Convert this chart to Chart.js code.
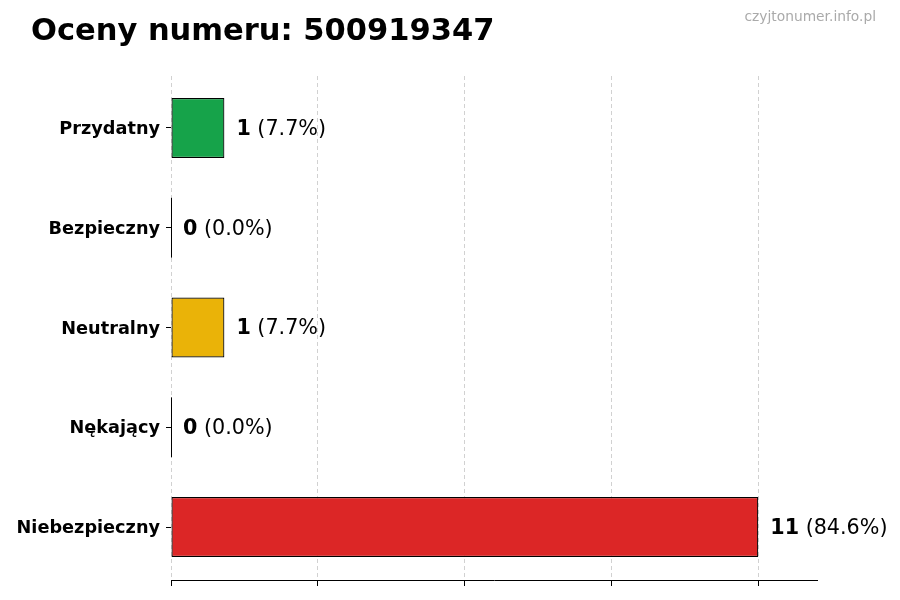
<!DOCTYPE html>
<html><head><meta charset="utf-8">
<script src="https://cdn.jsdelivr.net/npm/chart.js@4.4.0/dist/chart.umd.min.js"></script>
<style>html,body{margin:0;padding:0;background:#fff;} canvas{display:block;}</style>
</head><body>
<canvas id="c" width="900" height="600"></canvas>
<script>
const titleText = "Oceny numeru: 500919347";
const watermarkText = "czyjtonumer.info.pl";
const categories = ["Przydatny", "Bezpieczny", "Neutralny", "Nękający", "Niebezpieczny"];
const counts = [1, 0, 1, 0, 11];
const barColors = ["#16a34a", "#2563eb", "#eab308", "#ea580c", "#dc2626"];
const xTickValues = [0, 2.75, 5.5, 8.25, 11];
const xMax = 12.1;

const FONT = '"DejaVu Sans", "Liberation Sans", sans-serif';

const overlay = {
  id: 'overlay',
  afterDraw(chart) {
    const ctx = chart.ctx;
    const meta = chart.getDatasetMeta(0);
    const xs = chart.scales.x;
    const total = counts.reduce((a, b) => a + b, 0);
    ctx.save();
    meta.data.forEach((bar, i) => {
      const v = counts[i];
      if (v === 0) {
        const x0 = Math.round(xs.getPixelForValue(0)) + 0.5;
        ctx.strokeStyle = '#000';
        ctx.lineWidth = 1;
        ctx.beginPath();
        ctx.moveTo(x0, bar.y - bar.height / 2);
        ctx.lineTo(x0, bar.y + bar.height / 2);
        ctx.stroke();
      }
      const x = bar.x + 12;
      const y = bar.y + 1.5;
      ctx.fillStyle = '#000';
      ctx.textBaseline = 'middle';
      ctx.textAlign = 'left';
      ctx.font = 'bold 20.7px ' + FONT;
      const s1 = String(v);
      ctx.fillText(s1, x, y);
      const w = ctx.measureText(s1).width;
      ctx.font = '20.7px ' + FONT;
      ctx.fillText(' (' + (v / total * 100).toFixed(1) + '%)', x + w, y);
    });
    ctx.textBaseline = 'alphabetic';
    ctx.textAlign = 'left';
    ctx.fillStyle = '#000';
    ctx.font = 'bold 30.5px ' + FONT;
    ctx.fillText(titleText, 31, 40);
    ctx.textAlign = 'right';
    ctx.fillStyle = '#aaaaaa';
    ctx.font = '13.8px ' + FONT;
    ctx.fillText(watermarkText, 876, 21);
    ctx.restore();
  }
};

new Chart(document.getElementById('c'), {
  type: 'bar',
  data: {
    datasets: [{
      data: counts.map((v, i) => ({ x: v, y: i })),
      backgroundColor: barColors,
      borderColor: '#000',
      borderWidth: 1.2,
      borderSkipped: false,
      barPercentage: 0.6,
      categoryPercentage: 1.0
    }]
  },
  options: {
    indexAxis: 'y',
    responsive: false,
    animation: false,
    devicePixelRatio: 1,
    parsing: false,
    layout: { padding: { top: 76, right: 83, left: 0, bottom: 0 } },
    plugins: { legend: { display: false }, tooltip: { enabled: false }, title: { display: false } },
    scales: {
      x: {
        type: 'linear',
        min: 0, max: xMax,
        z: 1,
        afterBuildTicks: (s) => { s.ticks = xTickValues.map(v => ({ value: v })); },
        afterFit: (s) => { s.height = 20; },
        ticks: { display: false },
        grid: {
          color: 'rgba(0,0,0,0.18)', lineWidth: 1,
          drawTicks: true, tickLength: 6, tickColor: '#000', tickWidth: 1, tickBorderDash: []
        },
        border: { display: true, color: '#000', width: 1, dash: [4, 3] }
      },
      y: {
        type: 'linear',
        reverse: true,
        offset: false,
        min: -0.521, max: categories.length - 1 + 0.531,
        afterBuildTicks: (s) => { s.ticks = categories.map((c, i) => ({ value: i })); },
        afterFit: (s) => { s.width = 171; },
        ticks: {
          color: '#000', font: { family: FONT, size: 17.7, weight: 'bold' }, padding: 6,
          labelOffset: 1.5,
          callback: (v) => categories[v]
        },
        grid: { drawOnChartArea: false, drawTicks: true, tickLength: 5, tickColor: '#000', offset: false },
        border: { display: false }
      }
    }
  },
  plugins: [overlay]
});
</script>
</body></html>
